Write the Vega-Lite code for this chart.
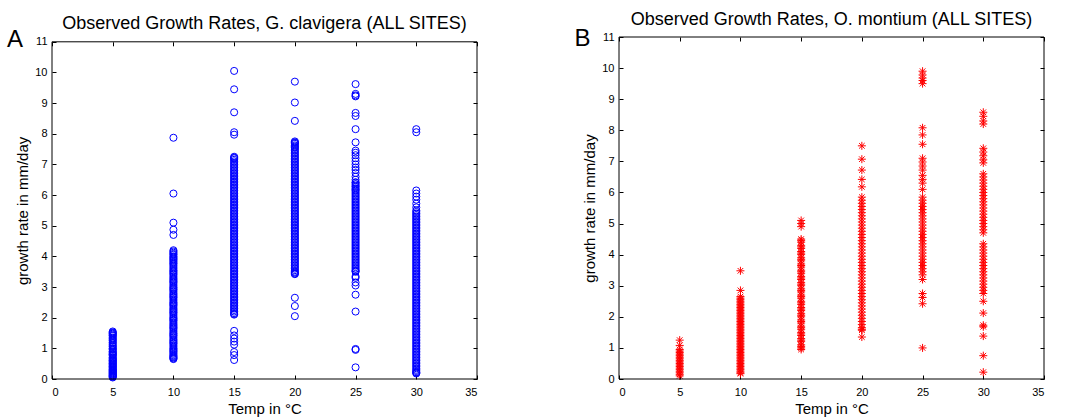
{
"$schema": "https://vega.github.io/schema/vega-lite/v6.json",
"padding": {"left": 6, "top": 11, "right": 5, "bottom": 5},
"background": "white",
"spacing": 96,
"bounds": "full",
"datasets": {
"gc": [
{"t":5,"g":1.55},{"t":5,"g":1.52},{"t":5,"g":1.48},{"t":5,"g":1.45},{"t":5,"g":1.4},{"t":5,"g":1.35},{"t":5,"g":1.28},{"t":5,"g":1.2},{"t":5,"g":1.17},{"t":5,"g":1.12},{"t":5,"g":1.05},{"t":5,"g":1.0},{"t":5,"g":0.95},{"t":5,"g":0.9},{"t":5,"g":0.85},{"t":5,"g":0.8},{"t":5,"g":0.75},{"t":5,"g":0.7},{"t":5,"g":0.65},{"t":5,"g":0.6},{"t":5,"g":0.55},{"t":5,"g":0.5},{"t":5,"g":0.45},{"t":5,"g":0.4},{"t":5,"g":0.35},{"t":5,"g":0.3},{"t":5,"g":0.26},{"t":5,"g":0.22},{"t":5,"g":0.18},{"t":5,"g":0.14},{"t":5,"g":0.1},{"t":5,"g":0.07},{"t":5,"g":0.05},
{"t":5,"g":1.5},{"t":5,"g":1.42},{"t":5,"g":1.32},{"t":5,"g":1.25},{"t":5,"g":1.08},{"t":5,"g":0.98},{"t":5,"g":0.88},{"t":5,"g":0.82},{"t":5,"g":0.78},{"t":5,"g":0.68},{"t":5,"g":0.62},{"t":5,"g":0.58},{"t":5,"g":0.52},{"t":5,"g":0.48},{"t":5,"g":0.42},{"t":5,"g":0.38},{"t":5,"g":0.32},{"t":5,"g":0.28},{"t":5,"g":0.24},{"t":5,"g":0.2},{"t":5,"g":0.16},{"t":5,"g":0.12},{"t":5,"g":0.09},
{"t":10,"g":7.87},{"t":10,"g":6.05},{"t":10,"g":5.1},{"t":10,"g":4.87},{"t":10,"g":4.7},{"t":10,"g":4.2},{"t":10,"g":4.12},{"t":10,"g":4.05},{"t":10,"g":3.97},{"t":10,"g":3.9},{"t":10,"g":3.82},{"t":10,"g":3.75},{"t":10,"g":3.65},{"t":10,"g":3.55},{"t":10,"g":3.48},{"t":10,"g":3.4},{"t":10,"g":3.3},{"t":10,"g":3.22},{"t":10,"g":3.15},{"t":10,"g":3.05},{"t":10,"g":2.97},{"t":10,"g":2.9},{"t":10,"g":2.8},{"t":10,"g":2.72},{"t":10,"g":2.65},{"t":10,"g":2.55},{"t":10,"g":2.47},{"t":10,"g":2.4},{"t":10,"g":2.3},{"t":10,"g":2.22},{"t":10,"g":2.15},{"t":10,"g":2.05},{"t":10,"g":1.97},{"t":10,"g":1.9},{"t":10,"g":1.8},{"t":10,"g":1.72},{"t":10,"g":1.65},{"t":10,"g":1.55},{"t":10,"g":1.47},{"t":10,"g":1.4},{"t":10,"g":1.3},{"t":10,"g":1.22},{"t":10,"g":1.15},{"t":10,"g":1.05},{"t":10,"g":0.97},{"t":10,"g":0.9},{"t":10,"g":0.82},{"t":10,"g":0.75},{"t":10,"g":0.7},{"t":10,"g":0.65},
{"t":10,"g":4.16},{"t":10,"g":4.08},{"t":10,"g":4.0},{"t":10,"g":3.93},{"t":10,"g":3.86},{"t":10,"g":3.78},{"t":10,"g":3.7},{"t":10,"g":3.6},{"t":10,"g":3.52},{"t":10,"g":3.44},{"t":10,"g":3.35},{"t":10,"g":3.26},{"t":10,"g":3.18},{"t":10,"g":3.1},{"t":10,"g":3.0},{"t":10,"g":2.93},{"t":10,"g":2.85},{"t":10,"g":2.76},{"t":10,"g":2.68},{"t":10,"g":2.6},{"t":10,"g":2.5},{"t":10,"g":2.43},{"t":10,"g":2.35},{"t":10,"g":2.26},{"t":10,"g":2.18},{"t":10,"g":2.1},{"t":10,"g":2.0},{"t":10,"g":1.93},{"t":10,"g":1.85},{"t":10,"g":1.76},{"t":10,"g":1.68},{"t":10,"g":1.6},{"t":10,"g":1.5},{"t":10,"g":1.43},{"t":10,"g":1.35},{"t":10,"g":1.26},{"t":10,"g":1.18},{"t":10,"g":1.1},{"t":10,"g":1.0},{"t":10,"g":0.93},{"t":10,"g":0.86},{"t":10,"g":0.78},{"t":10,"g":0.72},{"t":10,"g":0.67},
{"t":15,"g":10.05},{"t":15,"g":9.45},{"t":15,"g":8.7},{"t":15,"g":8.05},{"t":15,"g":7.97},{"t":15,"g":7.25},{"t":15,"g":7.2},{"t":15,"g":7.15},{"t":15,"g":7.05},{"t":15,"g":6.95},{"t":15,"g":6.85},{"t":15,"g":6.75},{"t":15,"g":6.65},{"t":15,"g":6.55},{"t":15,"g":6.45},{"t":15,"g":6.35},{"t":15,"g":6.25},{"t":15,"g":6.15},{"t":15,"g":6.05},{"t":15,"g":5.95},{"t":15,"g":5.85},{"t":15,"g":5.75},{"t":15,"g":5.65},{"t":15,"g":5.55},{"t":15,"g":5.45},{"t":15,"g":5.35},{"t":15,"g":5.25},{"t":15,"g":5.15},{"t":15,"g":5.05},{"t":15,"g":4.95},{"t":15,"g":4.85},{"t":15,"g":4.75},{"t":15,"g":4.65},{"t":15,"g":4.55},{"t":15,"g":4.45},{"t":15,"g":4.35},{"t":15,"g":4.25},{"t":15,"g":4.15},{"t":15,"g":4.05},{"t":15,"g":3.95},{"t":15,"g":3.85},{"t":15,"g":3.75},{"t":15,"g":3.65},{"t":15,"g":3.55},{"t":15,"g":3.45},{"t":15,"g":3.35},{"t":15,"g":3.25},{"t":15,"g":3.15},{"t":15,"g":3.05},{"t":15,"g":2.95},{"t":15,"g":2.85},{"t":15,"g":2.75},{"t":15,"g":2.65},{"t":15,"g":2.55},{"t":15,"g":2.45},{"t":15,"g":2.35},{"t":15,"g":2.25},{"t":15,"g":2.15},{"t":15,"g":2.1},{"t":15,"g":1.57},{"t":15,"g":1.42},{"t":15,"g":1.32},{"t":15,"g":1.22},{"t":15,"g":1.12},{"t":15,"g":0.88},{"t":15,"g":0.78},{"t":15,"g":0.62},
{"t":15,"g":7.22},{"t":15,"g":7.1},{"t":15,"g":7.0},{"t":15,"g":6.9},{"t":15,"g":6.8},{"t":15,"g":6.7},{"t":15,"g":6.6},{"t":15,"g":6.5},{"t":15,"g":6.4},{"t":15,"g":6.3},{"t":15,"g":6.2},{"t":15,"g":6.1},{"t":15,"g":6.0},{"t":15,"g":5.9},{"t":15,"g":5.8},{"t":15,"g":5.7},{"t":15,"g":5.6},{"t":15,"g":5.5},{"t":15,"g":5.4},{"t":15,"g":5.3},{"t":15,"g":5.2},{"t":15,"g":5.1},{"t":15,"g":5.0},{"t":15,"g":4.9},{"t":15,"g":4.8},{"t":15,"g":4.7},{"t":15,"g":4.6},{"t":15,"g":4.5},{"t":15,"g":4.4},{"t":15,"g":4.3},{"t":15,"g":4.2},{"t":15,"g":4.1},{"t":15,"g":4.0},{"t":15,"g":3.9},{"t":15,"g":3.8},{"t":15,"g":3.7},{"t":15,"g":3.6},{"t":15,"g":3.5},{"t":15,"g":3.4},{"t":15,"g":3.3},{"t":15,"g":3.2},{"t":15,"g":3.1},{"t":15,"g":3.0},{"t":15,"g":2.9},{"t":15,"g":2.8},{"t":15,"g":2.7},{"t":15,"g":2.6},{"t":15,"g":2.5},{"t":15,"g":2.4},{"t":15,"g":2.3},{"t":15,"g":2.2},{"t":15,"g":2.12},
{"t":20,"g":9.7},{"t":20,"g":9.02},{"t":20,"g":8.42},{"t":20,"g":7.75},{"t":20,"g":7.7},{"t":20,"g":7.62},{"t":20,"g":7.55},{"t":20,"g":7.45},{"t":20,"g":7.35},{"t":20,"g":7.25},{"t":20,"g":7.15},{"t":20,"g":7.05},{"t":20,"g":6.95},{"t":20,"g":6.85},{"t":20,"g":6.75},{"t":20,"g":6.65},{"t":20,"g":6.55},{"t":20,"g":6.45},{"t":20,"g":6.35},{"t":20,"g":6.25},{"t":20,"g":6.15},{"t":20,"g":6.05},{"t":20,"g":5.95},{"t":20,"g":5.85},{"t":20,"g":5.75},{"t":20,"g":5.65},{"t":20,"g":5.55},{"t":20,"g":5.45},{"t":20,"g":5.35},{"t":20,"g":5.25},{"t":20,"g":5.15},{"t":20,"g":5.05},{"t":20,"g":4.95},{"t":20,"g":4.85},{"t":20,"g":4.75},{"t":20,"g":4.65},{"t":20,"g":4.55},{"t":20,"g":4.45},{"t":20,"g":4.35},{"t":20,"g":4.25},{"t":20,"g":4.15},{"t":20,"g":4.05},{"t":20,"g":3.95},{"t":20,"g":3.85},{"t":20,"g":3.75},{"t":20,"g":3.65},{"t":20,"g":3.55},{"t":20,"g":3.47},{"t":20,"g":3.42},{"t":20,"g":2.65},{"t":20,"g":2.38},{"t":20,"g":2.05},
{"t":20,"g":7.72},{"t":20,"g":7.67},{"t":20,"g":7.58},{"t":20,"g":7.5},{"t":20,"g":7.4},{"t":20,"g":7.3},{"t":20,"g":7.2},{"t":20,"g":7.1},{"t":20,"g":7.0},{"t":20,"g":6.9},{"t":20,"g":6.8},{"t":20,"g":6.7},{"t":20,"g":6.6},{"t":20,"g":6.5},{"t":20,"g":6.4},{"t":20,"g":6.3},{"t":20,"g":6.2},{"t":20,"g":6.1},{"t":20,"g":6.0},{"t":20,"g":5.9},{"t":20,"g":5.8},{"t":20,"g":5.7},{"t":20,"g":5.6},{"t":20,"g":5.5},{"t":20,"g":5.4},{"t":20,"g":5.3},{"t":20,"g":5.2},{"t":20,"g":5.1},{"t":20,"g":5.0},{"t":20,"g":4.9},{"t":20,"g":4.8},{"t":20,"g":4.7},{"t":20,"g":4.6},{"t":20,"g":4.5},{"t":20,"g":4.4},{"t":20,"g":4.3},{"t":20,"g":4.2},{"t":20,"g":4.1},{"t":20,"g":4.0},{"t":20,"g":3.9},{"t":20,"g":3.8},{"t":20,"g":3.7},{"t":20,"g":3.6},{"t":20,"g":3.5},{"t":20,"g":3.44},
{"t":25,"g":9.62},{"t":25,"g":9.3},{"t":25,"g":9.25},{"t":25,"g":9.22},{"t":25,"g":8.68},{"t":25,"g":8.58},{"t":25,"g":8.15},{"t":25,"g":7.72},{"t":25,"g":7.45},{"t":25,"g":7.38},{"t":25,"g":7.3},{"t":25,"g":7.2},{"t":25,"g":7.1},{"t":25,"g":7.0},{"t":25,"g":6.9},{"t":25,"g":6.82},{"t":25,"g":6.72},{"t":25,"g":6.6},{"t":25,"g":6.5},{"t":25,"g":6.42},{"t":25,"g":6.35},{"t":25,"g":6.3},{"t":25,"g":6.22},{"t":25,"g":6.15},{"t":25,"g":6.05},{"t":25,"g":5.95},{"t":25,"g":5.85},{"t":25,"g":5.75},{"t":25,"g":5.65},{"t":25,"g":5.55},{"t":25,"g":5.45},{"t":25,"g":5.35},{"t":25,"g":5.25},{"t":25,"g":5.15},{"t":25,"g":5.05},{"t":25,"g":4.95},{"t":25,"g":4.85},{"t":25,"g":4.75},{"t":25,"g":4.65},{"t":25,"g":4.55},{"t":25,"g":4.45},{"t":25,"g":4.35},{"t":25,"g":4.25},{"t":25,"g":4.15},{"t":25,"g":4.05},{"t":25,"g":3.95},{"t":25,"g":3.85},{"t":25,"g":3.75},{"t":25,"g":3.65},{"t":25,"g":3.55},{"t":25,"g":3.5},{"t":25,"g":3.35},{"t":25,"g":3.3},{"t":25,"g":3.15},{"t":25,"g":3.05},{"t":25,"g":2.75},{"t":25,"g":2.2},{"t":25,"g":0.98},{"t":25,"g":0.95},{"t":25,"g":0.38},
{"t":25,"g":6.4},{"t":25,"g":6.27},{"t":25,"g":6.18},{"t":25,"g":6.1},{"t":25,"g":6.0},{"t":25,"g":5.9},{"t":25,"g":5.8},{"t":25,"g":5.7},{"t":25,"g":5.6},{"t":25,"g":5.5},{"t":25,"g":5.4},{"t":25,"g":5.3},{"t":25,"g":5.2},{"t":25,"g":5.1},{"t":25,"g":5.0},{"t":25,"g":4.9},{"t":25,"g":4.8},{"t":25,"g":4.7},{"t":25,"g":4.6},{"t":25,"g":4.5},{"t":25,"g":4.4},{"t":25,"g":4.3},{"t":25,"g":4.2},{"t":25,"g":4.1},{"t":25,"g":4.0},{"t":25,"g":3.9},{"t":25,"g":3.8},{"t":25,"g":3.7},{"t":25,"g":3.6},{"t":25,"g":3.52},
{"t":30,"g":8.15},{"t":30,"g":8.05},{"t":30,"g":6.15},{"t":30,"g":6.05},{"t":30,"g":5.95},{"t":30,"g":5.85},{"t":30,"g":5.72},{"t":30,"g":5.6},{"t":30,"g":5.5},{"t":30,"g":5.4},{"t":30,"g":5.3},{"t":30,"g":5.2},{"t":30,"g":5.1},{"t":30,"g":5.0},{"t":30,"g":4.9},{"t":30,"g":4.8},{"t":30,"g":4.7},{"t":30,"g":4.6},{"t":30,"g":4.5},{"t":30,"g":4.4},{"t":30,"g":4.3},{"t":30,"g":4.2},{"t":30,"g":4.1},{"t":30,"g":4.0},{"t":30,"g":3.9},{"t":30,"g":3.8},{"t":30,"g":3.7},{"t":30,"g":3.6},{"t":30,"g":3.5},{"t":30,"g":3.4},{"t":30,"g":3.3},{"t":30,"g":3.2},{"t":30,"g":3.1},{"t":30,"g":3.0},{"t":30,"g":2.9},{"t":30,"g":2.8},{"t":30,"g":2.7},{"t":30,"g":2.6},{"t":30,"g":2.5},{"t":30,"g":2.4},{"t":30,"g":2.3},{"t":30,"g":2.2},{"t":30,"g":2.1},{"t":30,"g":2.0},{"t":30,"g":1.9},{"t":30,"g":1.8},{"t":30,"g":1.7},{"t":30,"g":1.6},{"t":30,"g":1.5},{"t":30,"g":1.4},{"t":30,"g":1.3},{"t":30,"g":1.2},{"t":30,"g":1.1},{"t":30,"g":1.0},{"t":30,"g":0.9},{"t":30,"g":0.8},{"t":30,"g":0.7},{"t":30,"g":0.6},{"t":30,"g":0.5},{"t":30,"g":0.4},{"t":30,"g":0.3},{"t":30,"g":0.22},{"t":30,"g":0.18},
{"t":30,"g":5.45},{"t":30,"g":5.35},{"t":30,"g":5.25},{"t":30,"g":5.15},{"t":30,"g":5.05},{"t":30,"g":4.95},{"t":30,"g":4.85},{"t":30,"g":4.75},{"t":30,"g":4.65},{"t":30,"g":4.55},{"t":30,"g":4.45},{"t":30,"g":4.35},{"t":30,"g":4.25},{"t":30,"g":4.15},{"t":30,"g":4.05},{"t":30,"g":3.95},{"t":30,"g":3.85},{"t":30,"g":3.75},{"t":30,"g":3.65},{"t":30,"g":3.55},{"t":30,"g":3.45},{"t":30,"g":3.35},{"t":30,"g":3.25},{"t":30,"g":3.15},{"t":30,"g":3.05},{"t":30,"g":2.95},{"t":30,"g":2.85},{"t":30,"g":2.75},{"t":30,"g":2.65},{"t":30,"g":2.55},{"t":30,"g":2.45},{"t":30,"g":2.35},{"t":30,"g":2.25},{"t":30,"g":2.15},{"t":30,"g":2.05},{"t":30,"g":1.95},{"t":30,"g":1.85},{"t":30,"g":1.75},{"t":30,"g":1.65},{"t":30,"g":1.55},{"t":30,"g":1.45},{"t":30,"g":1.35},{"t":30,"g":1.25},{"t":30,"g":1.15},{"t":30,"g":1.05},{"t":30,"g":0.95},{"t":30,"g":0.85},{"t":30,"g":0.75},{"t":30,"g":0.65},{"t":30,"g":0.55},{"t":30,"g":0.45},{"t":30,"g":0.35},{"t":30,"g":0.26},{"t":30,"g":0.2}
],
"om": [
{"t":5,"g":1.25},{"t":5,"g":1.08},{"t":5,"g":0.95},{"t":5,"g":0.9},{"t":5,"g":0.85},{"t":5,"g":0.8},{"t":5,"g":0.75},{"t":5,"g":0.7},{"t":5,"g":0.65},{"t":5,"g":0.6},{"t":5,"g":0.55},{"t":5,"g":0.5},{"t":5,"g":0.45},{"t":5,"g":0.4},{"t":5,"g":0.35},{"t":5,"g":0.3},{"t":5,"g":0.25},{"t":5,"g":0.2},{"t":5,"g":0.15},{"t":5,"g":0.1},
{"t":10,"g":3.48},{"t":10,"g":2.85},{"t":10,"g":2.65},{"t":10,"g":2.6},{"t":10,"g":2.55},{"t":10,"g":2.5},{"t":10,"g":2.45},{"t":10,"g":2.4},{"t":10,"g":2.3},{"t":10,"g":2.2},{"t":10,"g":2.1},{"t":10,"g":2.0},{"t":10,"g":1.9},{"t":10,"g":1.8},{"t":10,"g":1.7},{"t":10,"g":1.6},{"t":10,"g":1.5},{"t":10,"g":1.4},{"t":10,"g":1.3},{"t":10,"g":1.2},{"t":10,"g":1.1},{"t":10,"g":1.0},{"t":10,"g":0.9},{"t":10,"g":0.8},{"t":10,"g":0.7},{"t":10,"g":0.6},{"t":10,"g":0.5},{"t":10,"g":0.4},{"t":10,"g":0.3},{"t":10,"g":0.25},{"t":10,"g":0.2},{"t":10,"g":0.17},
{"t":10,"g":2.35},{"t":10,"g":2.25},{"t":10,"g":2.15},{"t":10,"g":2.05},{"t":10,"g":1.95},{"t":10,"g":1.85},{"t":10,"g":1.75},{"t":10,"g":1.65},{"t":10,"g":1.55},{"t":10,"g":1.45},{"t":10,"g":1.35},{"t":10,"g":1.25},{"t":10,"g":1.15},{"t":10,"g":1.05},{"t":10,"g":0.95},{"t":10,"g":0.85},{"t":10,"g":0.75},{"t":10,"g":0.65},{"t":10,"g":0.55},{"t":10,"g":0.45},{"t":10,"g":0.35},
{"t":15,"g":5.1},{"t":15,"g":5.0},{"t":15,"g":4.9},{"t":15,"g":4.5},{"t":15,"g":4.4},{"t":15,"g":4.3},{"t":15,"g":4.2},{"t":15,"g":4.1},{"t":15,"g":4.0},{"t":15,"g":3.9},{"t":15,"g":3.8},{"t":15,"g":3.7},{"t":15,"g":3.6},{"t":15,"g":3.5},{"t":15,"g":3.4},{"t":15,"g":3.3},{"t":15,"g":3.2},{"t":15,"g":3.1},{"t":15,"g":3.0},{"t":15,"g":2.9},{"t":15,"g":2.8},{"t":15,"g":2.7},{"t":15,"g":2.6},{"t":15,"g":2.5},{"t":15,"g":2.4},{"t":15,"g":2.3},{"t":15,"g":2.2},{"t":15,"g":2.1},{"t":15,"g":2.0},{"t":15,"g":1.9},{"t":15,"g":1.8},{"t":15,"g":1.7},{"t":15,"g":1.6},{"t":15,"g":1.5},{"t":15,"g":1.4},{"t":15,"g":1.3},{"t":15,"g":1.2},{"t":15,"g":1.1},{"t":15,"g":1.05},{"t":15,"g":1.0},{"t":15,"g":0.95},
{"t":15,"g":4.45},{"t":15,"g":4.25},{"t":15,"g":4.05},{"t":15,"g":3.85},{"t":15,"g":3.65},{"t":15,"g":3.45},{"t":15,"g":3.25},{"t":15,"g":3.05},{"t":15,"g":2.85},{"t":15,"g":2.65},{"t":15,"g":2.45},{"t":15,"g":2.25},{"t":15,"g":2.05},{"t":15,"g":1.85},{"t":15,"g":1.65},{"t":15,"g":1.45},{"t":15,"g":1.25},
{"t":20,"g":7.5},{"t":20,"g":7.07},{"t":20,"g":6.72},{"t":20,"g":6.42},{"t":20,"g":6.18},{"t":20,"g":5.85},{"t":20,"g":5.75},{"t":20,"g":5.65},{"t":20,"g":5.55},{"t":20,"g":5.45},{"t":20,"g":5.35},{"t":20,"g":5.25},{"t":20,"g":5.15},{"t":20,"g":5.05},{"t":20,"g":4.95},{"t":20,"g":4.85},{"t":20,"g":4.75},{"t":20,"g":4.65},{"t":20,"g":4.55},{"t":20,"g":4.45},{"t":20,"g":4.35},{"t":20,"g":4.25},{"t":20,"g":4.15},{"t":20,"g":4.05},{"t":20,"g":3.95},{"t":20,"g":3.85},{"t":20,"g":3.75},{"t":20,"g":3.65},{"t":20,"g":3.55},{"t":20,"g":3.45},{"t":20,"g":3.35},{"t":20,"g":3.25},{"t":20,"g":3.15},{"t":20,"g":3.05},{"t":20,"g":2.95},{"t":20,"g":2.85},{"t":20,"g":2.75},{"t":20,"g":2.65},{"t":20,"g":2.55},{"t":20,"g":2.45},{"t":20,"g":2.35},{"t":20,"g":2.25},{"t":20,"g":2.15},{"t":20,"g":2.05},{"t":20,"g":1.95},{"t":20,"g":1.85},{"t":20,"g":1.75},{"t":20,"g":1.65},{"t":20,"g":1.6},{"t":20,"g":1.57},{"t":20,"g":1.35},
{"t":25,"g":9.9},{"t":25,"g":9.78},{"t":25,"g":9.68},{"t":25,"g":9.6},{"t":25,"g":9.5},{"t":25,"g":8.08},{"t":25,"g":7.85},{"t":25,"g":7.55},{"t":25,"g":7.1},{"t":25,"g":6.98},{"t":25,"g":6.85},{"t":25,"g":6.72},{"t":25,"g":6.55},{"t":25,"g":6.42},{"t":25,"g":6.3},{"t":25,"g":6.1},{"t":25,"g":5.85},{"t":25,"g":5.75},{"t":25,"g":5.65},{"t":25,"g":5.55},{"t":25,"g":5.45},{"t":25,"g":5.35},{"t":25,"g":5.25},{"t":25,"g":5.15},{"t":25,"g":5.05},{"t":25,"g":4.95},{"t":25,"g":4.85},{"t":25,"g":4.75},{"t":25,"g":4.65},{"t":25,"g":4.55},{"t":25,"g":4.45},{"t":25,"g":4.35},{"t":25,"g":4.25},{"t":25,"g":4.15},{"t":25,"g":4.05},{"t":25,"g":3.95},{"t":25,"g":3.85},{"t":25,"g":3.75},{"t":25,"g":3.65},{"t":25,"g":3.55},{"t":25,"g":3.45},{"t":25,"g":3.35},{"t":25,"g":3.2},{"t":25,"g":2.75},{"t":25,"g":2.62},{"t":25,"g":2.42},{"t":25,"g":1.0},
{"t":30,"g":8.58},{"t":30,"g":8.45},{"t":30,"g":8.3},{"t":30,"g":8.2},{"t":30,"g":7.42},{"t":30,"g":7.3},{"t":30,"g":7.18},{"t":30,"g":7.05},{"t":30,"g":6.95},{"t":30,"g":6.6},{"t":30,"g":6.5},{"t":30,"g":6.4},{"t":30,"g":6.3},{"t":30,"g":6.2},{"t":30,"g":6.1},{"t":30,"g":6.0},{"t":30,"g":5.9},{"t":30,"g":5.8},{"t":30,"g":5.7},{"t":30,"g":5.6},{"t":30,"g":5.5},{"t":30,"g":5.4},{"t":30,"g":5.3},{"t":30,"g":5.2},{"t":30,"g":5.1},{"t":30,"g":5.0},{"t":30,"g":4.9},{"t":30,"g":4.8},{"t":30,"g":4.7},{"t":30,"g":4.35},{"t":30,"g":4.25},{"t":30,"g":4.15},{"t":30,"g":4.05},{"t":30,"g":3.95},{"t":30,"g":3.85},{"t":30,"g":3.75},{"t":30,"g":3.65},{"t":30,"g":3.55},{"t":30,"g":3.45},{"t":30,"g":3.35},{"t":30,"g":3.25},{"t":30,"g":3.15},{"t":30,"g":3.05},{"t":30,"g":2.95},{"t":30,"g":2.85},{"t":30,"g":2.75},{"t":30,"g":2.5},{"t":30,"g":2.12},{"t":30,"g":1.73},{"t":30,"g":1.68},{"t":30,"g":1.38},{"t":30,"g":0.75},{"t":30,"g":0.22}
],
"la": [{"lab":"A"}],
"lb": [{"lab":"B"}]
},
"hconcat": [
{
"width": 425, "height": 342,
"title": {"text": "Observed Growth Rates, G. clavigera (ALL SITES)", "offset": -5, "frame": "group"},
"layer": [
{"data": {"name": "gc"},
 "mark": {"type": "point", "shape": "circle", "filled": false, "stroke": "#0000ff", "strokeWidth": 1, "size": 50, "opacity": 1},
 "encoding": {
  "x": {"field": "t", "type": "quantitative", "scale": {"domain": [0, 35], "nice": false, "zero": false},
        "axis": {"orient": "bottom", "values": [0,5,10,15,20,25,30,35], "title": "Temp in °C", "labelPadding": 7}},
  "y": {"field": "g", "type": "quantitative", "scale": {"domain": [0, 11], "nice": false, "zero": false, "range": [342, 4.8]},
        "axis": {"orient": "left", "values": [0,1,2,3,4,5,6,7,8,9,10,11], "title": "growth rate in mm/day", "labelPadding": 5}}
 }},
{"data": {"name": "la"},
 "mark": {"type": "text", "fontSize": 24, "align": "center", "baseline": "middle", "color": "#000"},
 "encoding": {
  "x": {"datum": -3.05, "type": "quantitative", "scale": {"domain": [0, 35], "nice": false, "zero": false},
        "axis": {"orient": "top", "values": [0,5,10,15,20,25,30,35], "labels": false, "title": null, "offset": -8.8}},
  "y": {"datum": 11.07, "type": "quantitative", "scale": {"domain": [0, 11], "nice": false, "zero": false, "range": [342, 4.8]},
        "axis": {"orient": "right", "values": [0,1,2,3,4,5,6,7,8,9,10,11], "labels": false, "title": null}},
  "text": {"field": "lab"}
 }},
{"data": {"name": "la"},
 "mark": {"type": "rect", "fillOpacity": 0, "stroke": "#000000", "strokeWidth": 1, "strokeOpacity": 1},
 "encoding": {
  "x": {"datum": 0, "type": "quantitative", "scale": {"domain": [0, 35], "nice": false, "zero": false}, "axis": null},
  "x2": {"datum": 35},
  "y": {"datum": 0, "type": "quantitative", "scale": {"domain": [0, 11], "nice": false, "zero": false, "range": [342, 4.8]}, "axis": null},
  "y2": {"datum": 11}
 }}
],
"resolve": {"axis": {"x": "independent", "y": "independent"}}
},
{
"width": 425, "height": 342,
"title": {"text": "Observed Growth Rates, O. montium (ALL SITES)", "offset": -2, "frame": "group"},
"layer": [
{"data": {"name": "om"},
 "mark": {"type": "point", "shape": "M-1,0L1,0M0,-1L0,1M-0.7,-0.7L0.7,0.7M-0.7,0.7L0.7,-0.7", "filled": false, "stroke": "#ff0000", "strokeWidth": 1, "size": 64, "opacity": 1},
 "encoding": {
  "x": {"field": "t", "type": "quantitative", "scale": {"domain": [0, 35], "nice": false, "zero": false},
        "axis": {"orient": "bottom", "values": [0,5,10,15,20,25,30,35], "title": "Temp in °C", "labelPadding": 7}},
  "y": {"field": "g", "type": "quantitative", "scale": {"domain": [0, 11], "nice": false, "zero": false},
        "axis": {"orient": "left", "values": [0,1,2,3,4,5,6,7,8,9,10,11], "title": "growth rate in mm/day", "labelPadding": 5}}
 }},
{"data": {"name": "lb"},
 "mark": {"type": "text", "fontSize": 24, "align": "center", "baseline": "middle", "color": "#000"},
 "encoding": {
  "x": {"datum": -3.0, "type": "quantitative", "scale": {"domain": [0, 35], "nice": false, "zero": false},
        "axis": {"orient": "top", "values": [0,5,10,15,20,25,30,35], "labels": false, "title": null}},
  "y": {"datum": 10.92, "type": "quantitative", "scale": {"domain": [0, 11], "nice": false, "zero": false},
        "axis": {"orient": "right", "values": [0,1,2,3,4,5,6,7,8,9,10,11], "labels": false, "title": null}},
  "text": {"field": "lab"}
 }},
{"data": {"name": "lb"},
 "mark": {"type": "rect", "fillOpacity": 0, "stroke": "#000000", "strokeWidth": 1, "strokeOpacity": 1},
 "encoding": {
  "x": {"datum": 0, "type": "quantitative", "scale": {"domain": [0, 35], "nice": false, "zero": false}, "axis": null},
  "x2": {"datum": 35},
  "y": {"datum": 0, "type": "quantitative", "scale": {"domain": [0, 11], "nice": false, "zero": false}, "axis": null},
  "y2": {"datum": 11}
 }}
],
"resolve": {"axis": {"x": "independent", "y": "independent"}}
}
],
"config": {
 "font": "Liberation Sans",
 "view": {"stroke": null},
 "axis": {"domain": false, "offset": -4, "tickColor": "#000000", "tickOpacity": 1, "tickWidth": 1, "tickSize": 4,
          "labelColor": "#000", "titleColor": "#000", "grid": false, "labelFontSize": 11, "titleFontSize": 15,
          "titleFontWeight": "normal", "labelFont": "Liberation Sans", "titleFont": "Liberation Sans", "titlePadding": 4},
 "title": {"fontSize": 18, "fontWeight": "normal", "font": "Liberation Sans", "color": "#000"}
}
}
